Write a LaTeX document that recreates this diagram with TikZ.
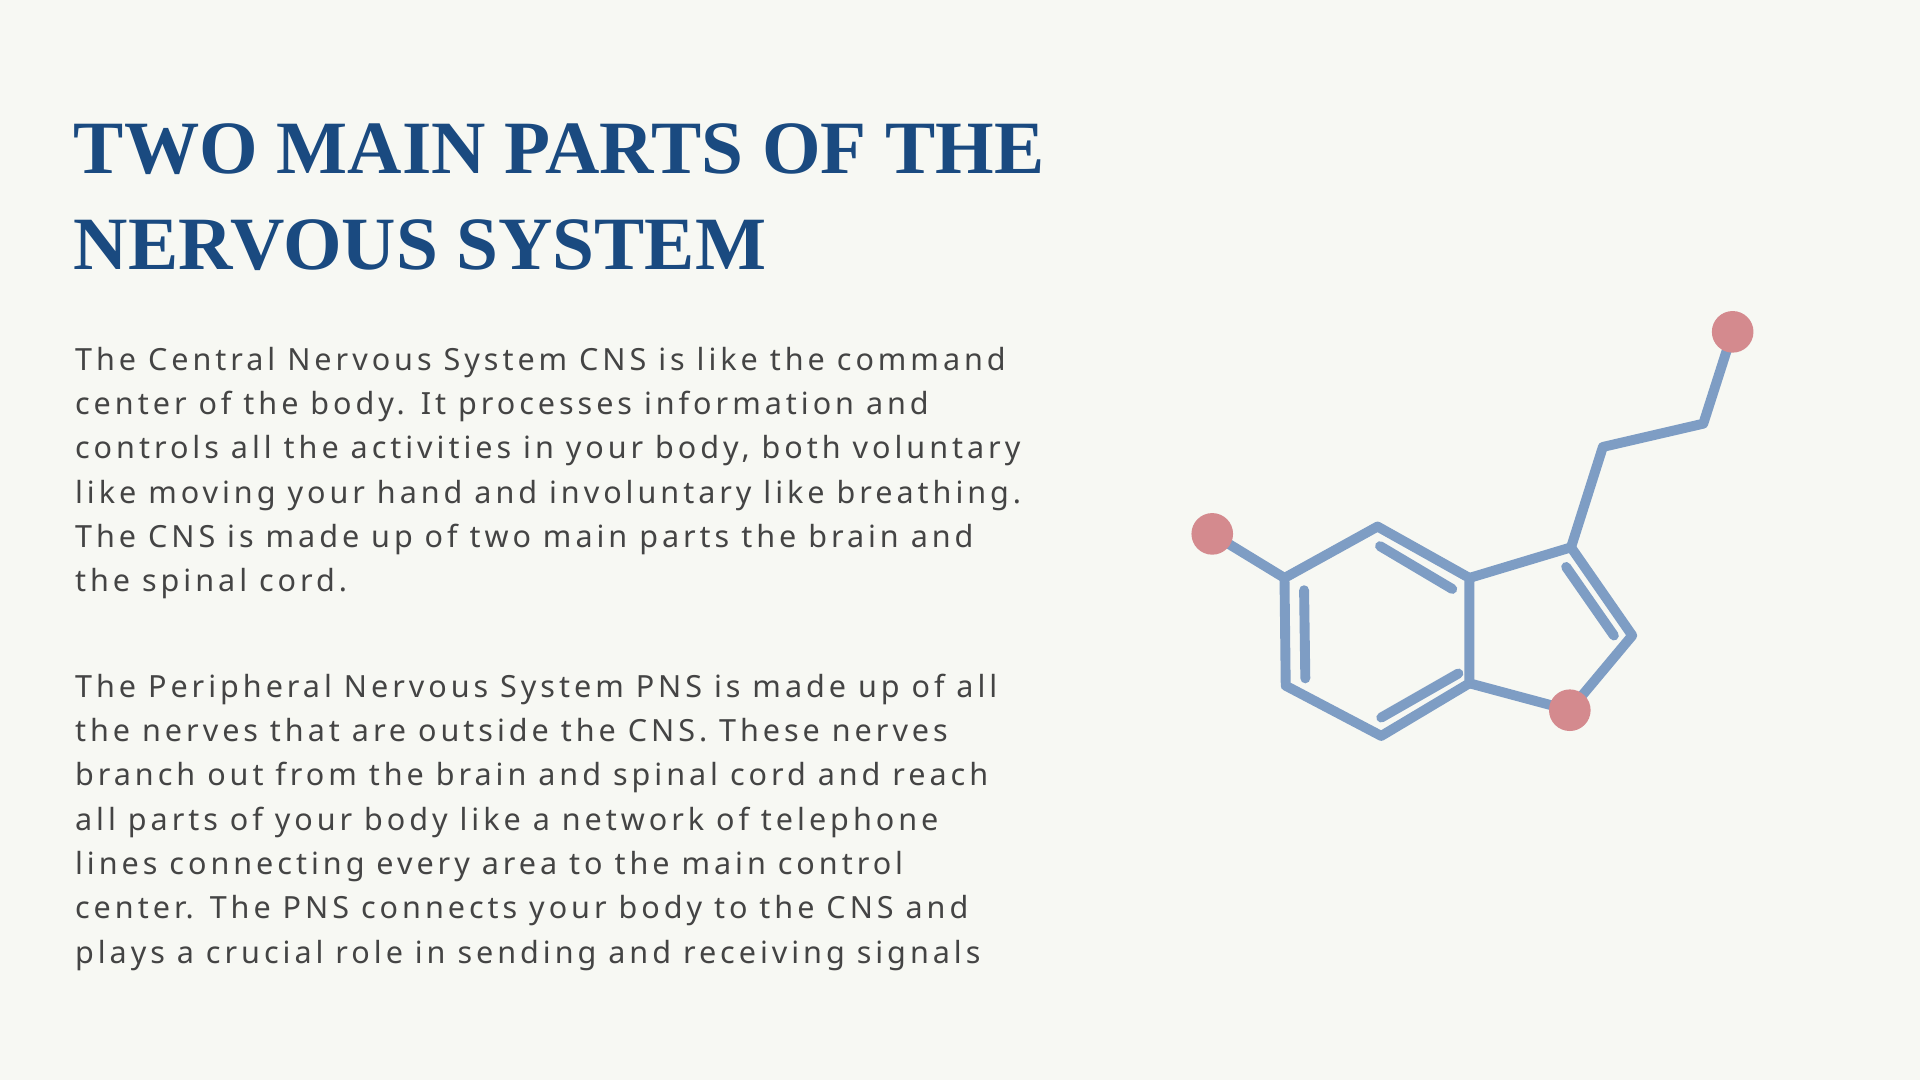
\documentclass[tikz,border=0pt]{standalone}
\usepackage{fontspec}
\setmainfont{Liberation Serif}
\newfontfamily\bodyfont[LetterSpace=13]{Noto Sans}
\begin{document}
\begin{tikzpicture}[x=0.02cm,y=-0.02cm,
  bond/.style={line width=4.6pt,draw=molblue,line cap=round,line join=round},
  atom/.style={circle,fill=atomred,minimum size=0.68cm,inner sep=0pt},
  body/.style={anchor=north west,inner sep=0pt,align=left,text=bodygray,font=\bodyfont\fontsize{14.2pt}{20.6pt}\selectfont},
  ttl/.style={anchor=north west,inner sep=0pt,align=left,text=titleblue,font=\bfseries\fontsize{35pt}{44.5pt}\selectfont}]
\definecolor{bg}{HTML}{F7F8F3}
\definecolor{molblue}{HTML}{7E9DC4}
\definecolor{atomred}{HTML}{D48A8E}
\definecolor{titleblue}{HTML}{1A4A80}
\definecolor{bodygray}{HTML}{444444}
\fill[bg] (0,0) rectangle (1568,882);
\useasboundingbox (0,0) rectangle (1568,882);
\node[ttl] (title) at (60,101) {TWO MAIN PARTS OF THE\\NERVOUS SYSTEM};
\node[body] (p1) at (61,283) {The Central Nervous System CNS is like the command\\center of the body. It processes information and\\controls all the activities in your body, both voluntary\\like moving your hand and involuntary like breathing.\\The CNS is made up of two main parts the brain and\\the spinal cord.};
\node[body] (p2) at (61,550) {The Peripheral Nervous System PNS is made up of all\\the nerves that are outside the CNS. These nerves\\branch out from the brain and spinal cord and reach\\all parts of your body like a network of telephone\\lines connecting every area to the main control\\center. The PNS connects your body to the CNS and\\plays a crucial role in sending and receiving signals};
% molecule
\coordinate (A) at (1049,472);
\coordinate (B) at (1125,430);
\coordinate (C) at (1200,472);
\coordinate (D) at (1200,558);
\coordinate (E) at (1128,601);
\coordinate (F) at (1050,560);
\coordinate (G) at (1283,447);
\coordinate (H) at (1333,519);
\coordinate (K1) at (1309,365);
\coordinate (K2) at (1391,346);
\coordinate (Oc) at (1282,580);
\coordinate (Xc) at (990,436);
\coordinate (Yc) at (1415,271);
\draw[bond] (A)--(B)--(C)--(D)--(E)--(F)--cycle;
\draw[bond] (C)--(G)--(H)--(Oc)--(D);
\draw[bond] (G)--(K1)--(K2)--(Yc);
\draw[bond] (A)--(Xc);
\coordinate (i1) at (1127,446); \coordinate (i2) at (1186,481);
\coordinate (i3) at (1065,482); \coordinate (i4) at (1066,554);
\coordinate (i5) at (1128,586); \coordinate (i6) at (1191,550);
\coordinate (i7) at (1279,463); \coordinate (i8) at (1318,519);
\draw[bond] (i1)--(i2); \draw[bond] (i3)--(i4); \draw[bond] (i5)--(i6); \draw[bond] (i7)--(i8);
\node[atom] (O) at (Oc) {};
\node[atom] (X) at (Xc) {};
\node[atom] (Y) at (Yc) {};
\end{tikzpicture}
\end{document}
